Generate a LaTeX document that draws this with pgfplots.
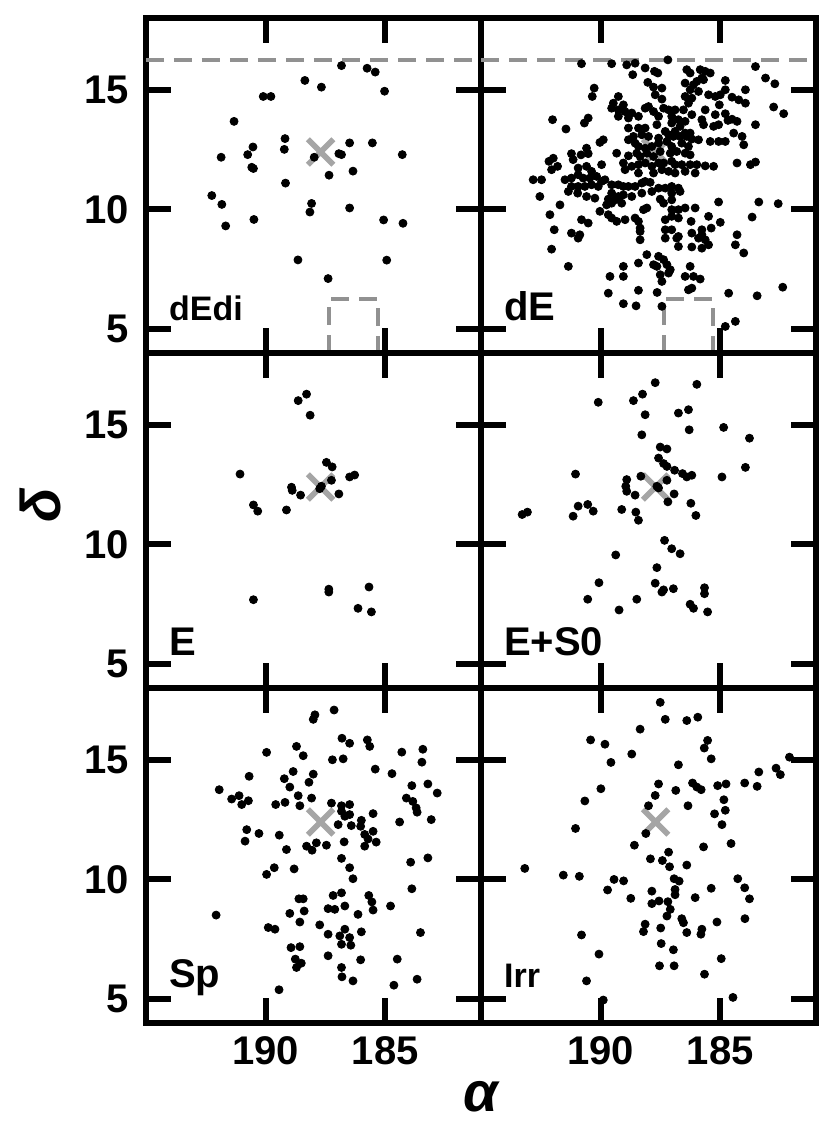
\documentclass[border=0pt]{standalone}
\usepackage{pgfplots}
\pgfplotsset{compat=1.18}
\usepgfplotslibrary{groupplots}
\usepackage{fontspec}
\setmainfont{Liberation Sans}
\definecolor{crossgray}{RGB}{165,165,165}
\definecolor{dashgray}{RGB}{145,145,145}

\pgfplotsset{
  virgo/.style={
    scale only axis, width=167.5pt, height=167.5pt,
    xmin=181, xmax=195, x dir=reverse,
    ymin=4, ymax=18,
    xtick={185,190}, ytick={5,10,15},
    axis line style={line width=3pt},
    tick align=inside, major tick length=12.5pt,
    tick style={black, line width=3pt},
    tick label style={font=\fontsize{20}{24}\selectfont\bfseries},
    /pgf/number format/assume math mode=true,
    yticklabel style={xshift=-5pt},
    xticklabel style={yshift=-3pt},
  },
  pts/.style={only marks, mark=*, mark size=2pt, black},
  m87/.style={only marks, mark=x, mark size=9pt, crossgray, mark options={line width=2.8pt}},
  dash/.style={dashgray, line width=1.8pt, dash pattern=on 9pt off 5pt},
}

\begin{document}
\begin{tikzpicture}
\begin{groupplot}[group style={group size=2 by 3, horizontal sep=0pt, vertical sep=0pt,
    xticklabels at=edge bottom, yticklabels at=edge left}, virgo]

% dEdi
\nextgroupplot
\addplot[dash] coordinates {(195,16.25) (181,16.25)};
\addplot[dash] coordinates {(187.35,4) (187.35,6.25) (185.3,6.25) (185.3,4)};
\addplot[m87] coordinates {(187.7,12.4)};
\addplot[pts] coordinates {
(186.83,16.01) (185.76,15.90) (185.42,15.74) (188.36,15.39) (187.67,15.11) (185.03,14.94)
(190.10,14.72) (189.78,14.72) (191.32,13.68) (189.19,12.96) (189.22,12.51) (190.53,12.61)
(190.75,12.29) (191.86,12.18) (190.58,11.76) (190.51,11.71) (187.97,12.18) (186.94,12.33)
(186.83,12.29) (186.49,12.78) (185.54,12.78) (184.29,12.29) (186.35,11.60) (187.35,11.43)
(189.17,11.10) (192.25,10.58) (191.83,10.21) (191.67,9.31) (190.49,9.58) (188.08,10.25)
(188.15,9.89) (186.49,10.06) (185.07,9.56) (184.26,9.42) (188.65,7.89) (184.94,7.88)
(187.39,7.11)
};
\node[font=\fontsize{17}{20}\selectfont\bfseries, anchor=base west, inner sep=0pt] at (axis cs:194.05,5.35) {dEdi};

% dE
\nextgroupplot
\addplot[dash] coordinates {(195,16.25) (181,16.25)};
\addplot[dash] coordinates {(187.35,4) (187.35,6.25) (185.3,6.25) (185.3,4)};
\addplot[m87] coordinates {(187.7,12.4)};
\addplot[pts] coordinates {
(190.80,16.09) (189.54,16.09) (188.91,16.04) (188.56,16.11) (188.14,15.91) (188.66,15.63)
(187.75,15.77) (187.61,15.70) (187.19,16.25) (186.40,15.84) (186.26,15.70) (185.84,15.84)
(185.63,15.77) (185.42,15.70) (185.77,15.49) (183.53,15.97) (183.11,15.49) (182.72,15.25)
(188.03,15.31) (187.79,15.11) (187.44,15.07) (186.47,15.28) (186.12,15.21) (185.98,15.35)
(185.70,15.42) (184.79,15.39) (186.26,15.00) (185.91,14.93) (185.49,14.79) (185.21,14.72)
(185.00,14.79) (184.79,15.00) (183.95,15.00) (190.27,15.07) (190.35,14.72) (187.72,14.79)
(187.44,14.61) (186.47,14.72) (184.51,14.69) (184.23,14.58) (183.95,14.44) (182.77,14.28)
(182.35,14.00) (189.26,14.72) (189.47,14.44)
(189.54,14.23) (189.26,14.16) (188.98,14.09) (189.05,14.37) (188.70,14.03) (188.42,13.89)
(188.14,14.23) (188.00,14.30) (187.79,14.09) (187.37,14.23) (187.16,14.16) (186.89,14.16)
(186.54,14.16) (186.33,14.44) (186.19,14.65) (185.63,14.16) (185.04,14.37) (190.52,13.82)
(190.68,13.61) (192.01,13.75) (191.45,13.36) (189.26,13.89) (188.84,13.82) (187.58,13.89)
(187.03,13.89) (186.75,13.75) (186.19,13.96) (185.77,13.75) (185.21,13.96) (184.79,14.00)
(184.68,13.72)
(187.03,13.61) (186.47,13.68) (185.70,13.54) (185.28,13.47) (185.07,13.54) (184.51,13.77)
(184.30,13.68) (183.53,13.54) (188.84,13.40) (188.42,13.40) (188.14,13.40) (187.65,13.54)
(187.30,13.26) (186.89,13.26) (186.68,13.47) (186.47,13.19) (186.26,13.19) (188.63,13.05)
(188.28,13.12) (188.00,13.05) (187.58,12.98) (187.16,13.12) (186.96,13.05) (186.68,13.05)
(186.40,13.05) (186.19,12.94) (185.91,12.91) (185.42,12.84) (185.07,12.84) (184.79,12.84)
(184.44,13.19) (184.09,13.05) (184.02,12.70) (189.89,12.91) (190.03,12.80) (188.84,12.91)
(188.56,12.77) (188.42,12.63) (188.14,12.56) (187.86,12.63) (187.58,12.77) (187.23,12.84)
(187.03,12.63) (186.61,12.77) (186.33,12.63) (190.59,12.56) (191.22,12.33) (191.98,12.14)
(192.16,12.01) (191.80,11.80) (191.15,12.08) (190.82,12.28) (190.52,12.33) (189.96,11.87)
(189.33,12.35) (188.84,12.24) (188.49,12.35) (188.35,12.21) (188.07,12.35) (187.79,12.21)
(187.51,12.42) (187.09,12.35) (186.82,12.42) (186.47,12.35) (186.26,12.28)
(189.05,11.94) (188.98,11.66) (188.70,11.80) (188.42,11.87) (188.14,11.94) (187.86,11.80)
(187.58,11.94) (187.37,11.94) (187.03,12.01) (186.89,11.87) (186.61,11.87) (186.26,11.87)
(185.98,11.87) (185.63,11.82) (185.28,11.80) (184.30,11.94) (183.74,11.87) (183.53,11.98)
(190.94,11.73) (190.59,11.80) (190.38,11.59) (190.94,11.45) (190.73,11.31) (190.45,11.31)
(190.17,11.38) (191.22,11.31) (191.49,11.24) (192.05,11.66) (192.82,11.24) (192.47,11.24)
(189.82,11.24) (187.79,11.52) (187.44,11.66) (187.16,11.59) (186.89,11.52) (186.47,11.59)
(186.05,11.52) (188.42,11.52)
(191.22,10.96) (191.35,10.75) (190.94,10.96) (190.66,10.96) (190.38,11.03) (190.10,10.96)
(189.96,11.17) (189.54,11.03) (189.26,11.03) (189.05,10.96) (188.84,10.96) (188.56,10.96)
(188.28,11.10) (188.14,11.17) (187.93,11.13) (187.58,10.89) (187.30,10.89) (187.03,10.96)
(186.75,10.89) (187.86,10.75) (188.28,10.68) (188.70,10.54) (189.05,10.61) (189.54,10.68)
(189.26,10.54) (189.68,10.43) (190.24,10.47) (190.59,10.54) (190.96,10.68) (192.54,10.54)
(191.70,10.19) (187.03,10.68) (186.68,10.75) (187.51,10.43) (187.03,10.40)
(190.03,9.92) (189.75,10.19) (189.54,10.26) (189.40,10.40) (189.12,10.26) (188.21,9.99)
(188.07,10.06) (189.68,9.78) (189.54,9.64) (189.33,9.50) (188.98,9.57) (188.56,9.64)
(188.42,9.50) (187.37,10.26) (187.03,9.99) (186.75,9.99) (186.47,10.06) (186.05,10.06)
(185.07,10.31) (183.39,10.31) (182.58,10.24) (192.12,9.78) (187.30,9.57) (187.03,9.71)
(186.75,9.64) (186.22,9.50) (185.49,9.71) (185.00,9.46) (183.67,9.68) (190.80,9.57)
(190.52,9.43)
(188.35,9.22) (188.35,9.08) (187.30,9.15) (187.03,9.15) (186.75,8.87) (186.19,9.01)
(185.77,8.94) (185.77,9.15) (185.38,9.22) (191.94,9.15) (191.22,9.01) (190.94,8.80)
(190.87,8.94) (188.35,8.73) (187.30,8.80) (186.82,8.80) (185.91,8.80) (185.63,8.73)
(184.30,8.94)
(186.75,8.45) (186.19,8.43) (185.77,8.38) (185.49,8.52) (184.37,8.52) (184.02,8.18)
(192.05,8.34) (188.07,8.11) (188.42,7.76) (187.58,8.04) (187.37,7.90) (187.79,7.69)
(187.23,7.69) (187.09,7.48)
(191.35,7.62) (189.05,7.62) (189.61,7.20) (189.05,7.20) (187.65,7.62) (187.51,7.27)
(187.44,6.99) (187.16,7.34) (186.26,7.62) (186.47,7.20) (186.12,7.20) (185.84,7.09)
(186.19,6.71) (186.33,6.64) (189.68,6.50) (188.42,6.62) (187.64,6.53) (184.65,6.50)
(183.46,6.39) (182.39,6.75)
(189.05,6.06) (188.52,5.97) (187.44,5.95) (184.37,5.32) (184.79,5.11)
};
\node[font=\fontsize{20}{24}\selectfont\bfseries, anchor=base west, inner sep=0pt] at (axis cs:194.05,5.35) {dE};

% E
\nextgroupplot
\addplot[m87] coordinates {(187.7,12.4)};
\addplot[pts] coordinates {
(188.64,16.01) (188.29,16.28) (188.14,15.40) (191.07,12.94) (190.51,11.65) (190.33,11.39)
(189.13,11.44) (188.92,12.39) (188.89,12.26) (188.54,12.06) (187.67,12.43) (187.74,12.33)
(187.46,13.43) (187.22,13.24) (187.25,12.68) (186.94,12.11) (186.49,12.82) (186.28,12.90)
(190.51,7.69) (187.36,8.13) (187.36,8.01) (185.68,8.22) (186.14,7.33) (185.58,7.18)
};
\node[font=\fontsize{20}{24}\selectfont\bfseries, anchor=base west, inner sep=0pt] at (axis cs:194.05,5.35) {E};

% E+S0
\nextgroupplot
\addplot[m87] coordinates {(187.7,12.4)};
\addplot[pts] coordinates {
(187.72,16.76) (185.98,16.69) (188.25,16.28) (188.63,16.01) (190.10,15.94) (188.14,15.42)
(186.75,15.49) (186.33,15.63) (186.30,14.79) (184.86,14.89) (183.78,14.44) (188.28,14.58)
(187.51,14.07) (187.23,13.99) (187.58,13.61) (187.37,13.38) (187.23,13.26) (186.91,13.10)
(186.58,12.96) (186.40,12.82) (186.19,12.89) (184.93,12.82) (183.95,13.22) (191.05,12.94)
(188.91,12.71) (188.95,12.43) (188.91,12.22) (188.32,12.85) (187.23,12.68) (187.65,12.43)
(187.58,12.36) (188.56,12.06) (186.93,12.11) (187.19,11.78) (186.23,11.72) (186.02,11.21)
(193.28,11.25) (193.06,11.35) (191.15,11.18) (190.94,11.60) (190.54,11.67) (190.31,11.39)
(189.12,11.46) (188.53,11.35) (188.42,11.01) (187.33,10.17) (187.03,9.82) (186.68,9.61)
(189.37,9.56) (187.65,9.03) (190.07,8.40) (187.72,8.38) (187.37,8.10) (187.44,8.01)
(186.96,8.15) (185.66,8.19) (185.66,7.94) (190.54,7.71) (188.49,7.71) (189.23,7.26)
(186.26,7.50) (186.12,7.33) (185.53,7.18)
};
\node[font=\fontsize{20}{24}\selectfont\bfseries, anchor=base west, inner sep=0pt] at (axis cs:194.05,5.35) {E+S0};

% Sp
\nextgroupplot
\addplot[m87] coordinates {(187.7,12.4)};
\addplot[pts] coordinates {
(187.14,17.08) (187.94,16.88) (188.01,16.69) (186.81,15.90) (186.49,15.69) (185.75,15.83)
(185.65,15.56) (188.71,15.56) (188.43,15.17) (189.96,15.31) (187.21,15.00) (186.76,15.04)
(184.31,15.32) (183.43,15.44) (183.47,14.90) (185.42,14.61) (184.72,14.42) (190.69,14.31)
(188.85,14.51) (189.22,14.21) (188.01,14.40) (188.19,14.06) (188.99,13.86) (188.64,13.50)
(188.08,13.40) (191.94,13.75) (191.42,13.36) (191.11,13.50) (191.00,13.13) (190.72,13.29)
(189.58,13.13) (189.19,13.22) (188.57,13.08) (187.25,13.19) (186.83,13.08) (186.49,13.13)
(186.83,12.85) (186.69,12.64) (186.49,12.71) (185.51,12.75) (186.97,12.29) (186.42,12.25)
(186.00,12.47) (186.03,12.22) (184.40,12.40) (183.89,13.92) (183.22,13.99) (182.83,13.61)
(184.12,13.40) (183.85,13.26) (183.71,12.99) (183.67,12.81) (183.08,12.50) (190.79,12.08)
(190.86,11.60) (190.28,11.92) (189.43,11.85) (189.13,11.25) (188.29,11.39) (188.06,11.22)
(187.88,11.53) (187.46,11.43) (186.72,11.57) (185.86,11.88) (185.51,12.01) (185.72,11.69)
(185.38,11.56) (185.86,11.39) (186.83,10.88) (186.49,10.49) (186.35,10.03) (183.94,10.72)
(183.22,10.90) (183.89,9.61) (189.64,10.49) (189.96,10.21) (188.81,10.44) (188.61,9.19)
(188.43,9.19) (188.39,8.68) (188.99,8.58) (188.57,8.22) (189.89,7.99) (189.61,7.92)
(187.74,8.10) (192.07,8.51) (187.18,9.33) (186.83,9.44) (187.39,8.78) (187.11,8.75)
(186.69,8.89) (186.14,8.54) (185.69,9.33) (185.56,9.06) (185.51,8.72) (184.78,8.89)
(187.39,7.71) (186.90,7.64) (186.69,7.92) (186.49,7.57) (186.00,7.81) (186.83,7.29)
(186.44,7.25) (183.53,7.78) (188.94,7.15) (188.76,6.67) (188.57,7.19) (188.51,6.50)
(188.71,6.32) (187.39,6.81) (186.03,6.64) (184.50,6.67) (186.83,6.32) (186.81,5.93)
(186.35,5.76) (184.64,5.58) (183.67,5.83) (189.44,5.39)
};
\node[font=\fontsize{20}{24}\selectfont\bfseries, anchor=base west, inner sep=0pt] at (axis cs:194.05,5.5) {Sp};

% Irr
\nextgroupplot
\addplot[m87] coordinates {(187.7,12.4)};
\addplot[pts] coordinates {
(187.51,17.40) (187.30,16.69) (186.40,16.64) (185.94,16.78) (188.35,16.28) (190.42,15.83)
(189.82,15.65) (188.70,15.24) (189.57,14.89) (186.75,14.79) (185.53,15.81) (185.67,15.49)
(185.38,15.04) (182.11,15.11) (182.67,14.65) (182.49,14.38) (183.39,14.49) (183.46,13.89)
(183.98,14.03) (184.76,13.99) (185.11,13.92) (186.16,14.03) (185.98,13.86) (185.80,13.75)
(186.86,13.72) (187.58,13.99) (187.72,13.51) (189.99,13.79) (190.66,13.28) (188.00,13.08)
(186.35,13.08) (184.85,13.33) (184.79,12.89) (185.24,12.74) (184.93,12.29) (191.05,12.13)
(188.11,11.92) (188.59,11.43) (185.70,11.36) (184.55,11.50) (187.16,11.14) (187.92,10.86)
(187.42,10.79) (187.12,10.53) (186.40,10.60) (193.17,10.46) (191.56,10.18) (190.89,10.13)
(189.44,10.00) (189.04,9.94) (189.71,9.56) (188.74,9.21) (187.86,9.51) (187.86,8.99)
(187.56,9.10) (187.19,9.07) (186.93,10.03) (186.72,9.93) (186.89,9.58) (186.89,9.36)
(186.05,9.24) (185.38,9.63) (184.27,10.03) (183.98,9.65) (183.78,9.19) (183.97,8.36)
(187.09,8.75) (187.23,8.47) (186.61,8.36) (186.54,8.19) (185.14,8.22) (188.14,8.13)
(188.21,7.82) (187.49,7.97) (186.40,7.78) (185.77,7.92) (185.81,7.71) (190.80,7.68)
(187.47,7.32) (186.96,7.06) (190.07,6.88) (184.96,6.69) (187.54,6.39) (186.93,6.39)
(185.66,6.04) (190.59,5.76) (184.47,5.07) (189.89,4.96)
};
\node[font=\fontsize{17}{20}\selectfont\bfseries, anchor=base west, inner sep=0pt] at (axis cs:194.05,5.5) {Irr};
\end{groupplot}

\node[font=\fontsize{28}{32}\selectfont\bfseries\itshape, rotate=90] at ([xshift=-53pt,yshift=7.5pt]group c1r2.west) {δ};
\node[font=\fontsize{28}{32}\selectfont\bfseries\itshape] at ([yshift=-37pt]group c1r3.south east) {α};

\pgfresetboundingbox
\path ([xshift=-73pt,yshift=9pt]group c1r1.north west) rectangle ([xshift=7pt,yshift=-49.5pt]group c2r3.south east);
\end{tikzpicture}
\end{document}
